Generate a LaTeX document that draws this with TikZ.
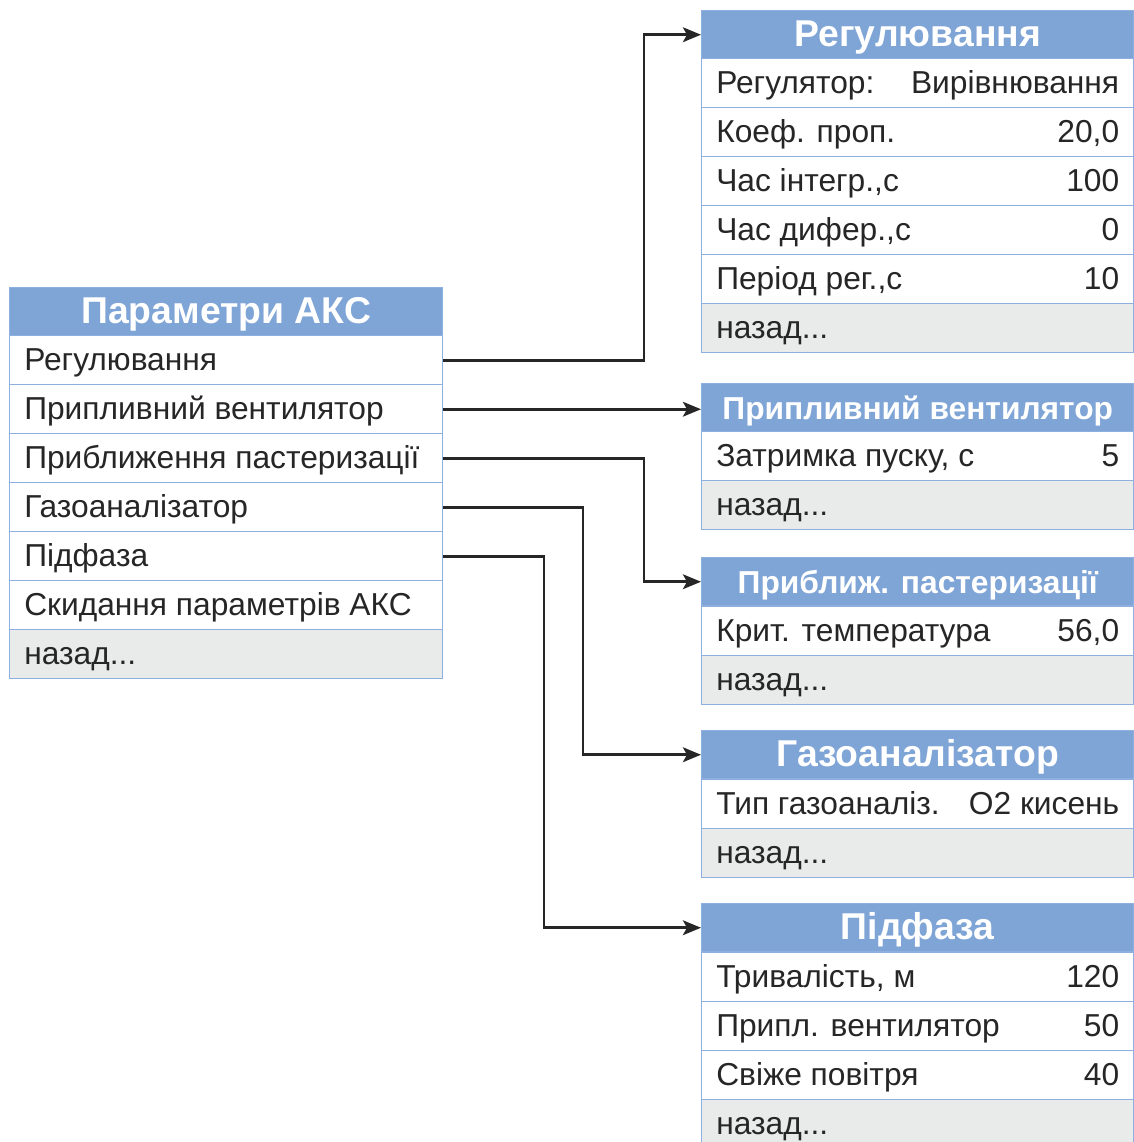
\documentclass[tikz,border=0pt]{standalone}
\usepackage{fontspec}
\setmainfont{Liberation Sans}
\usetikzlibrary{arrows.meta}
\definecolor{hdr}{HTML}{7FA5D7}
\definecolor{edge}{HTML}{8EB0E0}
\definecolor{backrow}{HTML}{E9EBEA}
\definecolor{ink}{HTML}{262626}

\tikzset{
  cell/.style={draw=edge, line width=1.1pt, fill=white, minimum height=36.75pt,
    inner sep=0pt, anchor=north west},
  backcell/.style={cell, fill=backrow},
  headcell/.style={draw=edge, line width=1.1pt, fill=hdr, minimum height=36pt,
    inner sep=0pt, anchor=north west},
  txt/.style={inner sep=0pt, text=ink, font=\fontsize{23.8}{28}\selectfont},
  htxt/.style={inner sep=0pt, text=white, font=\bfseries\fontsize{28}{33}\selectfont},
  hsmall/.style={htxt, font=\bfseries\fontsize{23.8}{28}\selectfont},
  conn/.style={draw=ink, line width=2.2pt,
    -{Stealth[length=13.5pt,width=11pt,inset=3pt]}},
}

% one menu line: name, x, y, width (px), left text, right text, style
\newcommand\menuline[7]{%
  \node[#7, minimum width=#4*0.75pt] (#1) at (#2,#3) {};
  \node[txt, anchor=base west] (#1-l) at ([xshift=11.25pt,yshift=-7.9pt]#1.west) {#5};
  \node[txt, anchor=base east] (#1-r) at ([xshift=-11.25pt,yshift=-7.9pt]#1.east) {#6};
}
% menu title: name, x, y, width (px), text, text style
\newcommand\menutitle[6]{%
  \node[headcell, minimum width=#4*0.75pt] (#1) at (#2,#3) {};
  \node[#6, anchor=base] (#1-t) at ([yshift=-9pt]#1.center) {#5};
}

\begin{document}
\begin{tikzpicture}[x=0.75pt, y=-0.75pt]
\useasboundingbox (0,0) rectangle (1134,1142);
\begin{scope}
\clip (0,0) rectangle (1134,1142);

% main menu
\menutitle{lh}{9}{287}{433}{Параметри АКС}{htxt}
\menuline{l1}{9}{335}{433}{Регулювання}{}{cell}
\menuline{l2}{9}{384}{433}{Припливний вентилятор}{}{cell}
\menuline{l3}{9}{433}{433}{Приближення пастеризації}{}{cell}
\menuline{l4}{9}{482}{433}{Газоаналізатор}{}{cell}
\menuline{l5}{9}{531}{433}{Підфаза}{}{cell}
\menuline{l6}{9}{580}{433}{Скидання параметрів АКС}{}{cell}
\menuline{lb}{9}{629}{433}{назад...}{}{backcell}

% regulation submenu
\menutitle{ah}{701}{10}{432}{Регулювання}{htxt}
\menuline{a1}{701}{58}{432}{Регулятор:}{Вирівнювання}{cell}
\menuline{a2}{701}{107}{432}{Коеф. проп.}{20,0}{cell}
\menuline{a3}{701}{156}{432}{Час інтегр.,с}{100}{cell}
\menuline{a4}{701}{205}{432}{Час дифер.,с}{0}{cell}
\menuline{a5}{701}{254}{432}{Період рег.,с}{10}{cell}
\menuline{ab}{701}{303}{432}{назад...}{}{backcell}

% supply fan submenu
\menutitle{bh}{701}{383}{432}{Припливний вентилятор}{hsmall}
\menuline{b1}{701}{431}{432}{Затримка пуску, с}{5}{cell}
\menuline{bb}{701}{480}{432}{назад...}{}{backcell}

% pasteurisation submenu
\menutitle{ch}{701}{557}{432}{Приближ. пастеризації}{hsmall}
\menuline{c1}{701}{606}{432}{Крит. температура}{56,0}{cell}
\menuline{cb}{701}{655}{432}{назад...}{}{backcell}

% gas analyser submenu
\menutitle{dh}{701}{730}{432}{Газоаналізатор}{htxt}
\menuline{d1}{701}{779}{432}{Тип газоаналіз.}{O2 кисень}{cell}
\menuline{db}{701}{828}{432}{назад...}{}{backcell}

% sub-phase submenu
\menutitle{eh}{701}{903}{432}{Підфаза}{htxt}
\menuline{e1}{701}{952}{432}{Тривалість, м}{120}{cell}
\menuline{e2}{701}{1001}{432}{Припл. вентилятор}{50}{cell}
\menuline{e3}{701}{1050}{432}{Свіже повітря}{40}{cell}
\menuline{eb}{701}{1099}{432}{назад...}{}{backcell}
\end{scope}

% connectors
\coordinate (k1) at (644,0);
\coordinate (k3) at (644,0);
\coordinate (k4) at (583,0);
\coordinate (k5) at (544,0);
\draw[conn] (l1.east) -| (k1 |- ah.west) -- (ah.west);
\draw[conn] (l2.east) -- (l2.east -| bh.west);
\draw[conn] (l3.east) -| (k3 |- ch.west) -- (ch.west);
\draw[conn] (l4.east) -| (k4 |- dh.west) -- (dh.west);
\draw[conn] (l5.east) -| (k5 |- eh.west) -- (eh.west);
\end{tikzpicture}
\end{document}
